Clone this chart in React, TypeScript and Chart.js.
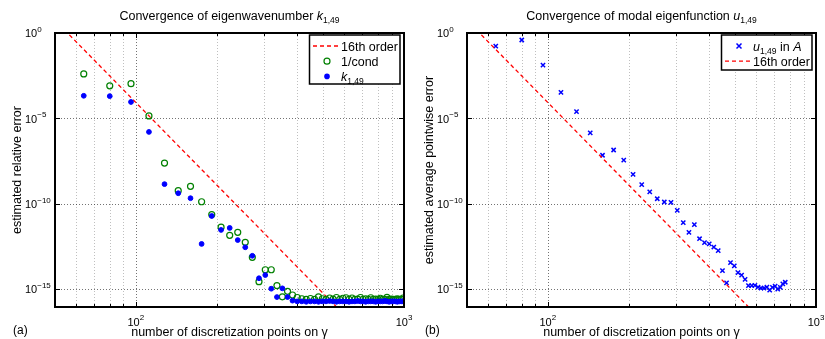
import React, { useEffect, useRef } from "react";
import { Chart, registerables } from "chart.js";

Chart.register(...registerables);

const FONT = '"Liberation Sans", Arial, Helvetica, sans-serif';

// ---------- data ----------
const nLeft = [
  64, 80, 96, 112, 128, 144, 160, 176, 192, 208,
  224, 240, 256, 272, 288, 304, 320, 336, 352, 368,
  384, 400, 416, 432, 448, 464, 480, 496, 512, 528,
  544, 560, 576, 592, 608, 624, 640, 656, 672, 688,
  704, 720, 736, 752, 768, 784, 800, 816, 832, 848,
  864, 880, 896, 912, 928, 944, 960, 976, 992,
];

const kError = [
  2.1e-4, 2.0e-4, 9.1e-5, 1.6e-6, 1.4e-9, 4.1e-10, 2.1e-10, 4.4e-13, 1.9e-11, 2.9e-12,
  3.8e-12, 7.4e-13, 2.8e-13, 8.9e-14, 4.3e-15, 6.6e-15, 1.05e-15, 3.4e-16, 1.1e-15, 3.4e-16,
  2.1e-16, 1.9e-16, 1.9e-16, 1.8e-16, 1.9e-16, 1.9e-16, 1.8e-16, 1.9e-16, 1.9e-16, 2.0e-16,
  1.9e-16, 1.8e-16, 1.9e-16, 1.9e-16, 1.9e-16, 1.8e-16, 1.9e-16, 1.9e-16, 2.0e-16, 1.9e-16,
  1.9e-16, 1.8e-16, 1.9e-16, 1.9e-16, 1.9e-16, 1.8e-16, 1.9e-16, 1.9e-16, 1.9e-16, 2.0e-16,
  1.9e-16, 1.8e-16, 1.9e-16, 1.9e-16, 1.9e-16, 1.8e-16, 1.9e-16, 1.9e-16, 1.9e-16,
];

const invCond = [
  4.0e-3, 8.1e-4, 1.07e-3, 1.38e-5, 2.4e-8, 5.8e-10, 1.05e-9, 1.3e-10, 2.3e-11, 4.2e-12,
  1.4e-12, 2.1e-12, 5.5e-13, 7.2e-14, 2.7e-15, 1.35e-14, 1.35e-14, 1.6e-15, 3.5e-16, 7.4e-16,
  4.5e-16, 3.2e-16, 2.7e-16, 2.5e-16, 2.8e-16, 2.5e-16, 3.5e-16, 2.7e-16, 2.5e-16, 3.0e-16,
  2.6e-16, 3.2e-16, 2.5e-16, 2.9e-16, 3.1e-16, 2.5e-16, 3.0e-16, 2.5e-16, 2.6e-16, 3.2e-16,
  2.5e-16, 2.7e-16, 2.5e-16, 3.1e-16, 2.5e-16, 2.6e-16, 2.5e-16, 2.9e-16, 2.5e-16, 2.5e-16,
  3.3e-16, 2.5e-16, 2.6e-16, 2.5e-16, 2.5e-16, 2.7e-16, 2.5e-16, 2.5e-16, 3.0e-16,
];

const nRight = [
  64, 80, 96, 112, 128, 144, 160, 176, 192, 208,
  224, 240, 256, 272, 288, 304, 320, 336, 352, 368,
  384, 400, 416, 432, 448, 464, 480, 496, 512, 528,
  544, 560, 576, 592, 608, 624, 640, 656, 672, 688,
  704, 720, 736, 752, 768,
];

const uError = [
  0.17, 0.39, 0.013, 3.3e-4, 2.5e-5, 1.4e-6, 6.9e-8, 1.4e-7, 3.6e-8, 5.2e-9,
  1.3e-9, 4.9e-10, 1.95e-10, 1.26e-10, 1.2e-10, 4.1e-11, 7.8e-12, 2.1e-12, 5.9e-12, 8.9e-13,
  5.2e-13, 4.4e-13, 2.9e-13, 1.8e-13, 1.2e-14, 2.3e-15, 3.5e-14, 2.3e-14, 9.1e-15, 6.6e-15,
  3.7e-15, 1.6e-15, 1.6e-15, 1.66e-15, 1.3e-15, 1.15e-15, 1.15e-15, 1.3e-15, 8.7e-16, 1.26e-15,
  1.5e-15, 1.0e-15, 1.26e-15, 2.0e-15, 2.5e-15,
];

// 16th-order reference line (two end points)
const orderLineN = [52, 600];
const orderLineErr = [3.0, 3.0e-17];

// axis ticks / grid
const xMin = 50;
const xMax = 1000;
const yMin = 8.9e-17;
const yMax = 1;
const xGridVals = [60, 70, 80, 90, 100, 200, 300, 400, 500, 600, 700, 800, 900];
const xMajorVals = [100, 1000];
const xLabelExps = ["2", "3"];
const yMajorVals = [1, 1e-5, 1e-10, 1e-15];
const yLabelExps = ["0", "\u22125", "\u221210", "\u221215"];

type Seg = { t: string; it?: boolean; sub?: boolean; sup?: boolean; size?: number };

function drawRich(
  ctx: CanvasRenderingContext2D,
  segs: Seg[],
  x: number,
  y: number,
  base: number,
  align: "left" | "center" | "right",
  smallSize = base * 0.68
) {
  const fontFor = (s: Seg) =>
    `${s.it ? "italic " : ""}${s.size ?? (s.sub || s.sup ? smallSize : base)}px ${FONT}`;
  let total = 0;
  const widths = segs.map((s) => {
    ctx.font = fontFor(s);
    const w = ctx.measureText(s.t).width;
    total += w;
    return w;
  });
  let cx = align === "left" ? x : align === "center" ? x - total / 2 : x - total;
  ctx.textAlign = "left";
  ctx.textBaseline = "alphabetic";
  segs.forEach((s, i) => {
    ctx.font = fontFor(s);
    const dy = s.sub ? base * 0.28 : s.sup ? -base * 0.5 : 0;
    ctx.fillText(s.t, cx, y + dy);
    cx += widths[i];
  });
}

type LegendItem = { kind: "dash" | "circle" | "dot" | "cross"; label: Seg[] };

type PanelSpec = {
  id: string;
  title: Seg[];
  ylabel: string;
  letter: string;
  legendBox: [number, number, number, number];
  legend: LegendItem[];
};

function drawMarker(ctx: CanvasRenderingContext2D, kind: LegendItem["kind"], x: number, y: number) {
  ctx.save();
  ctx.setLineDash([]);
  if (kind === "dash") {
    ctx.strokeStyle = "#ff0000";
    ctx.lineWidth = 1.3;
    ctx.setLineDash([4, 3]);
    ctx.beginPath();
    ctx.moveTo(x - 14, y);
    ctx.lineTo(x + 13, y);
    ctx.stroke();
  } else if (kind === "circle") {
    ctx.strokeStyle = "#008000";
    ctx.lineWidth = 1.2;
    ctx.beginPath();
    ctx.arc(x, y, 3, 0, Math.PI * 2);
    ctx.stroke();
  } else if (kind === "dot") {
    ctx.fillStyle = "#0000ff";
    ctx.beginPath();
    ctx.arc(x, y, 2.8, 0, Math.PI * 2);
    ctx.fill();
  } else {
    ctx.strokeStyle = "#0000ff";
    ctx.lineWidth = 1.5;
    ctx.beginPath();
    ctx.moveTo(x - 2.5, y - 2.5);
    ctx.lineTo(x + 2.5, y + 2.5);
    ctx.moveTo(x + 2.5, y - 2.5);
    ctx.lineTo(x - 2.5, y + 2.5);
    ctx.stroke();
  }
  ctx.restore();
}

function makePlugin(spec: PanelSpec) {
  return {
    id: "deco_" + spec.id,
    beforeDatasetsDraw(chart: any) {
      const { ctx, chartArea: a } = chart;
      const x = chart.scales.x;
      const y = chart.scales.y;
      ctx.save();
      ctx.lineWidth = 1;
      ctx.setLineDash([1, 2]);
      for (const v of xGridVals) {
        const px = Math.round(x.getPixelForValue(v)) + 0.5;
        ctx.strokeStyle = xMajorVals.includes(v) ? "rgba(0,0,0,0.55)" : "rgba(0,0,0,0.25)";
        ctx.beginPath();
        ctx.moveTo(px, a.top);
        ctx.lineTo(px, a.bottom);
        ctx.stroke();
      }
      for (const v of yMajorVals) {
        if (v === yMax) continue;
        const py = Math.round(y.getPixelForValue(v)) + 0.5;
        ctx.strokeStyle = "rgba(0,0,0,0.55)";
        ctx.beginPath();
        ctx.moveTo(a.left, py);
        ctx.lineTo(a.right, py);
        ctx.stroke();
      }
      ctx.restore();
    },
    afterDatasetsDraw(chart: any) {
      const { ctx, chartArea: a } = chart;
      const x = chart.scales.x;
      const y = chart.scales.y;
      ctx.save();
      ctx.setLineDash([]);
      ctx.strokeStyle = "#000";
      // ticks
      ctx.lineWidth = 1;
      for (const v of xGridVals) {
        const px = Math.round(x.getPixelForValue(v)) + 0.5;
        const len = xMajorVals.includes(v) ? 5 : 3;
        ctx.beginPath();
        ctx.moveTo(px, a.bottom);
        ctx.lineTo(px, a.bottom - len);
        ctx.moveTo(px, a.top);
        ctx.lineTo(px, a.top + len);
        ctx.stroke();
      }
      for (const v of yMajorVals) {
        const py = Math.round(y.getPixelForValue(v)) + 0.5;
        ctx.beginPath();
        ctx.moveTo(a.left, py);
        ctx.lineTo(a.left + 5, py);
        ctx.moveTo(a.right, py);
        ctx.lineTo(a.right - 5, py);
        ctx.stroke();
      }
      // box
      ctx.lineWidth = 2;
      ctx.strokeRect(a.left, a.top, a.right - a.left, a.bottom - a.top);
      // legend
      const [lx, ly, lw, lh] = spec.legendBox;
      ctx.fillStyle = "#fff";
      ctx.fillRect(lx, ly, lw, lh);
      ctx.lineWidth = 1.5;
      ctx.strokeStyle = "#000";
      ctx.strokeRect(lx, ly, lw, lh);
      spec.legend.forEach((item, i) => {
        const cy = ly + 11 + i * 15.2;
        drawMarker(ctx, item.kind, lx + 17.5, cy);
        ctx.fillStyle = "#000";
        drawRich(ctx, item.label, lx + 31.5, cy + 4.5, 12.5, "left", 8.5);
      });
      ctx.restore();
    },
    afterDraw(chart: any) {
      const { ctx, chartArea: a } = chart;
      const x = chart.scales.x;
      const y = chart.scales.y;
      ctx.save();
      ctx.fillStyle = "#000";
      // x tick labels
      xMajorVals.forEach((v, i) => {
        const px = x.getPixelForValue(v);
        drawRich(ctx, [{ t: "10", size: 11 }, { t: xLabelExps[i], sup: true, size: 8 }], px, a.bottom + 18.5, 11, "center");
      });
      // y tick labels
      yMajorVals.forEach((v, i) => {
        const py = y.getPixelForValue(v);
        drawRich(ctx, [{ t: "10", size: 11 }, { t: yLabelExps[i], sup: true, size: 8 }], a.left - 30, py + 4.3, 11, "left");
      });
      const cx = (a.left + a.right) / 2;
      // title
      drawRich(ctx, spec.title, cx, 19.5, 12.5, "center", 8.5);
      // x label
      drawRich(ctx, [{ t: "number of discretization points on \u03b3" }], cx, 335.5, 12.5, "center");
      // y label
      ctx.save();
      ctx.translate(a.left - 37, (a.top + a.bottom) / 2);
      ctx.rotate(-Math.PI / 2);
      ctx.font = `12.5px ${FONT}`;
      ctx.textAlign = "center";
      ctx.textBaseline = "middle";
      ctx.fillText(spec.ylabel, 0, 0);
      ctx.restore();
      // panel letter
      ctx.font = `12px ${FONT}`;
      ctx.textAlign = "left";
      ctx.textBaseline = "alphabetic";
      ctx.fillText(spec.letter, 13, 333.5);
      ctx.restore();
    },
  };
}

function pts(xs: number[], ys: number[]) {
  return xs.map((v, i) => ({ x: v, y: ys[i] }));
}

const orderLineDataset = {
  label: "16th order",
  data: pts(orderLineN, orderLineErr),
  showLine: true,
  borderColor: "#ff0000",
  borderWidth: 1.3,
  borderDash: [4, 3],
  pointRadius: 0,
  order: 0,
};

function Panel(props: {
  left: number;
  width: number;
  padRight: number;
  spec: PanelSpec;
  datasets: any[];
}) {
  const ref = useRef<HTMLCanvasElement | null>(null);
  useEffect(() => {
    if (!ref.current) return;
    const chart = new Chart(ref.current, {
      type: "scatter",
      data: { datasets: props.datasets },
      options: {
        responsive: false,
        maintainAspectRatio: false,
        animation: false,
        devicePixelRatio: 1,
        events: [],
        layout: { padding: { left: 55, top: 33, right: props.padRight, bottom: 32 } },
        plugins: { legend: { display: false }, tooltip: { enabled: false }, title: { display: false } },
        scales: {
          x: { type: "logarithmic", min: xMin, max: xMax, display: false },
          y: { type: "logarithmic", min: yMin, max: yMax, display: false },
        },
      },
      plugins: [makePlugin(props.spec)],
    } as any);
    return () => chart.destroy();
  }, []);
  return (
    <canvas
      ref={ref}
      width={props.width}
      height={339}
      style={{ position: "absolute", left: props.left, top: 0, width: props.width, height: 339 }}
    />
  );
}

const leftSpec: PanelSpec = {
  id: "a",
  title: [{ t: "Convergence of eigenwavenumber " }, { t: "k", it: true }, { t: "1,49", sub: true }],
  ylabel: "estimated relative error",
  letter: "(a)",
  legendBox: [309.5, 35, 90.5, 49],
  legend: [
    { kind: "dash", label: [{ t: "16th order" }] },
    { kind: "circle", label: [{ t: "1/cond" }] },
    { kind: "dot", label: [{ t: "k", it: true }, { t: "1,49", sub: true }] },
  ],
};

const rightSpec: PanelSpec = {
  id: "b",
  title: [{ t: "Convergence of modal eigenfunction " }, { t: "u", it: true }, { t: "1,49", sub: true }],
  ylabel: "estimated average pointwise error",
  letter: "(b)",
  legendBox: [309.5, 35, 90.5, 35],
  legend: [
    { kind: "cross", label: [{ t: "u", it: true }, { t: "1,49", sub: true }, { t: " in " }, { t: "A", it: true }] },
    { kind: "dash", label: [{ t: "16th order" }] },
  ],
};

const leftDatasets = [
  { ...orderLineDataset, order: 2 },
  {
    label: "1/cond",
    data: pts(nLeft, invCond),
    pointStyle: "circle",
    pointRadius: 3,
    borderWidth: 1.2,
    borderColor: "#008000",
    backgroundColor: "rgba(0,0,0,0)",
    order: 1,
  },
  {
    label: "k",
    data: pts(nLeft, kError),
    pointStyle: "circle",
    pointRadius: 2.4,
    borderWidth: 1,
    borderColor: "#0000ff",
    backgroundColor: "#0000ff",
    order: 0,
  },
];

const rightDatasets = [
  {
    label: "u",
    data: pts(nRight, uError),
    pointStyle: "crossRot",
    pointRadius: 3,
    borderWidth: 1.5,
    borderColor: "#0000ff",
    backgroundColor: "#0000ff",
    order: 1,
  },
  { ...orderLineDataset, order: 0 },
];

export default function App() {
  return (
    <div style={{ position: "absolute", left: 0, top: 0, width: 825, height: 339, background: "#fff", overflow: "hidden" }}>
      <Panel left={0} width={425} padRight={21} spec={leftSpec} datasets={leftDatasets} />
      <Panel left={412} width={413} padRight={9} spec={rightSpec} datasets={rightDatasets} />
    </div>
  );
}
